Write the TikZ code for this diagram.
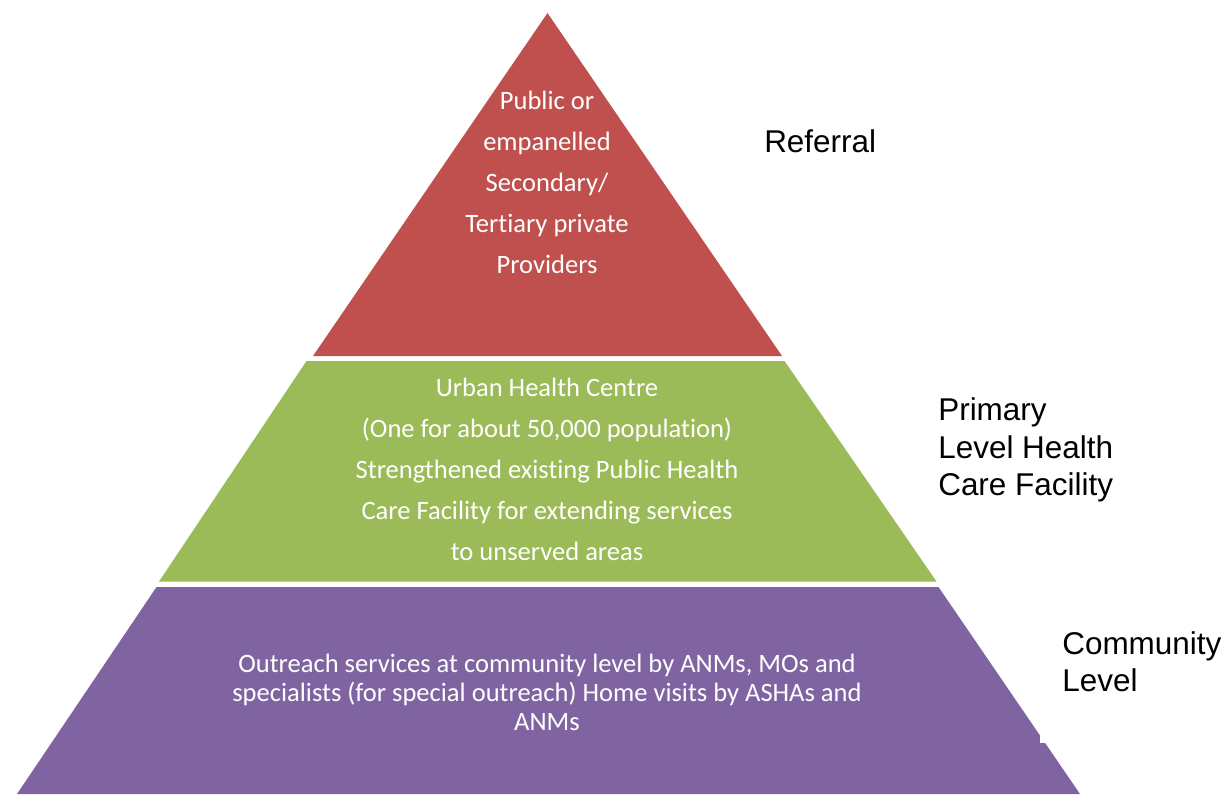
\documentclass[tikz,border=0pt]{standalone}
\usepackage{fontspec}
\setmainfont{Liberation Sans}
\newfontfamily\calfont[Ligatures={NoCommon}]{Carlito}
\definecolor{tierred}{HTML}{C0504D}
\definecolor{tiergreen}{HTML}{9BBB59}
\definecolor{tierpurple}{HTML}{8064A2}
\tikzset{
  tiertext/.style={text=white, align=center, inner sep=0pt, font=\calfont\fontsize{19.9}{30.75}\selectfont},
  lowtext/.style={text=white, align=center, inner sep=0pt, font=\calfont\fontsize{19.9}{21.75}\selectfont},
  sidelabel/.style={text=black, align=left, anchor=west, inner sep=0pt, font=\fontsize{23.6}{28.1}\selectfont}
}
\begin{document}
\begin{tikzpicture}[x=0.75pt,y=-0.75pt]
\useasboundingbox (0,0) rectangle (1226,794);
% tiers
\fill[tierred] (547.5,13) -- (782,356) -- (313,356) -- cycle;
\fill[tiergreen] (306.5,361) -- (784.5,361) -- (936.5,581.5) -- (159,581.5) -- cycle;
\fill[tierpurple] (156.5,587) -- (938.5,587) -- (1080,794) -- (17,794) -- cycle;
% white label box overlapping the purple edge
\fill[white] (1040,600) rectangle (1226,743);
% tier texts
\node[tiertext] (referraltext) at (547,182) {Public or\\empanelled\\Secondary/\\Tertiary private\\Providers};
\node[tiertext] (primarytext) at (547,469) {Urban Health Centre\\(One for about 50,000 population)\\Strengthened existing Public Health\\Care Facility for extending services\\to unserved areas};
\node[lowtext] (communitytext) at (547,692) {Outreach services at community level by ANMs, MOs and\\specialists (for special outreach) Home visits by ASHAs and\\ANMs};
% side labels
\node[sidelabel] (referral) at (764,141) {Referral};
\node[sidelabel] (primary) at (938,450) {Primary\\Level Health\\Care Facility};
\node[sidelabel] (community) at (1062,662) {Community\\Level};
\end{tikzpicture}
\end{document}
